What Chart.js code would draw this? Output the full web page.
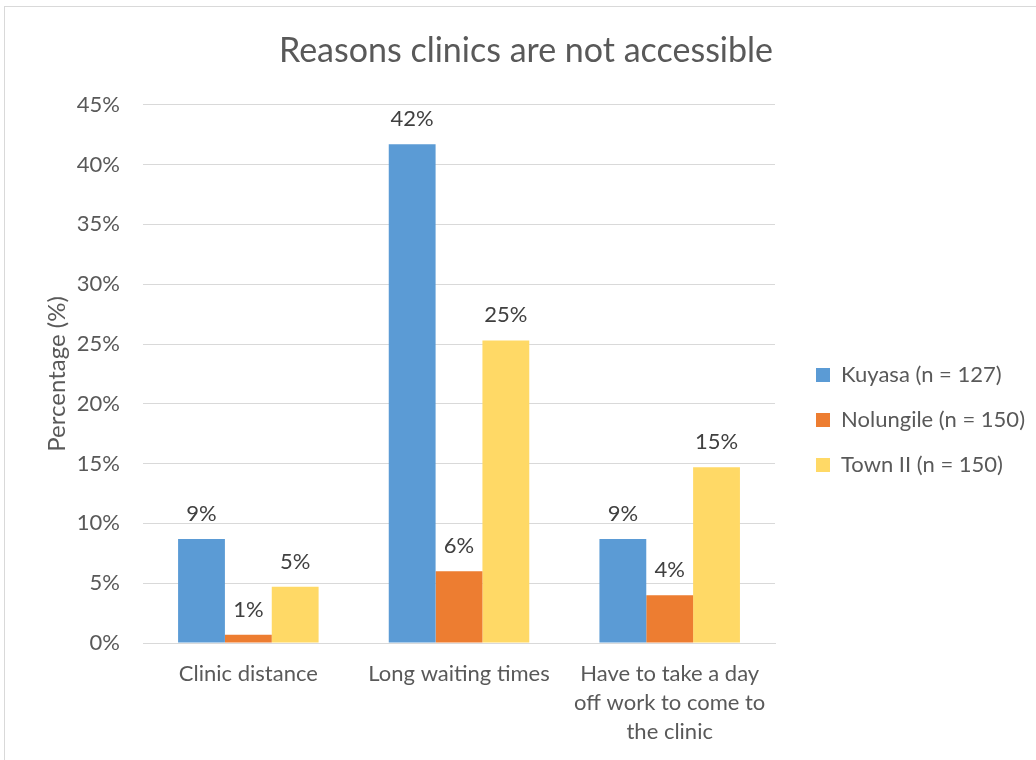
<!DOCTYPE html>
<html lang="en">
<head>
    <meta charset="UTF-8">
    <title>Reasons clinics are not accessible</title>
    <script src="https://cdn.jsdelivr.net/npm/chart.js"></script>
    <style>
        body {
            margin: 0;
            padding: 0;
            background: #ffffff;
            overflow: hidden;
        }

        .frame {
            position: absolute;
            left: 4px;
            top: 6px;
            width: 1100px;
            height: 800px;
            border: 1px solid #d9d9d9;
        }

        #clinicChart {
            position: absolute;
            left: 0;
            top: 0;
        }
    </style>
</head>
<body>

    <div class="frame"></div>
    <canvas id="clinicChart" width="1036" height="760"></canvas>

    <script>
        // Datos del gráfico
        const categorias = [
            'Clinic distance',
            'Long waiting times',
            ['Have to take a day', 'off work to come to', 'the clinic']
        ];
        const kuyasa = [8.7, 41.7, 8.7];
        const nolungile = [0.7, 6.0, 4.0];
        const townII = [4.7, 25.3, 14.7];
        const series = ['Kuyasa (n = 127)', 'Nolungile (n = 150)', 'Town II (n = 150)'];
        const yTicks = [0, 5, 10, 15, 20, 25, 30, 35, 40, 45];

        const fuente = 'Lato, "Open Sans", sans-serif';
        const gris = '#595959';

        // Etiquetas de porcentaje encima de cada barra
        const etiquetasBarras = {
            id: 'etiquetasBarras',
            afterDatasetsDraw(chart) {
                const ctx = chart.ctx;
                ctx.save();
                ctx.font = '22px ' + fuente;
                ctx.fillStyle = '#404040';
                ctx.textAlign = 'center';
                ctx.textBaseline = 'alphabetic';
                chart.data.datasets.forEach((ds, i) => {
                    chart.getDatasetMeta(i).data.forEach((bar, j) => {
                        ctx.fillText(Math.round(ds.data[j]) + '%', bar.x, bar.y - 18);
                    });
                });
                ctx.restore();
            }
        };

        // Ajusta la posición de la leyenda y del título
        const ajustarCajas = {
            id: 'ajustarCajas',
            afterLayout(chart) {
                const lg = chart.legend;
                lg.left += 18;
                lg.right += 18;
                lg.top += 35;
                lg.bottom += 35;
                const tt = chart.titleBlock;
                tt.left += 9;
                tt.right += 9;
                tt.top += 1;
                tt.bottom += 1;
            }
        };

        const ctx = document.getElementById('clinicChart').getContext('2d');
        const clinicChart = new Chart(ctx, {
            type: 'bar',
            data: {
                labels: categorias,
                datasets: [
                    { label: series[0], data: kuyasa, backgroundColor: '#5b9bd5' },
                    { label: series[1], data: nolungile, backgroundColor: '#ed7d31' },
                    { label: series[2], data: townII, backgroundColor: '#ffd966' }
                ]
            },
            options: {
                responsive: false,
                animation: false,
                layout: {
                    padding: { left: 17, right: 19, top: 10, bottom: 0 }
                },
                datasets: {
                    bar: {
                        categoryPercentage: 0.667,
                        barPercentage: 1.0
                    }
                },
                plugins: {
                    title: {
                        display: true,
                        text: 'Reasons clinics are not accessible',
                        color: gris,
                        font: { family: fuente, size: 34, weight: 'normal', lineHeight: 1.2 },
                        padding: { top: 20, bottom: 34 }
                    },
                    legend: {
                        position: 'right',
                        labels: {
                            color: gris,
                            font: { family: fuente, size: 22 },
                            boxWidth: 14,
                            boxHeight: 14,
                            padding: 23
                        }
                    },
                    tooltip: { enabled: false }
                },
                scales: {
                    x: {
                        grid: { display: false },
                        border: { color: '#d9d9d9' },
                        ticks: {
                            color: gris,
                            font: { family: fuente, size: 22, lineHeight: 1.32 },
                            padding: 8,
                            maxRotation: 0
                        },
                        afterFit(scale) { scale.height = 117; }
                    },
                    y: {
                        min: 0,
                        max: 45,
                        afterBuildTicks(scale) {
                            scale.ticks = yTicks.map(v => ({ value: v }));
                        },
                        grid: { color: '#d9d9d9', drawTicks: false },
                        border: { display: false },
                        ticks: {
                            color: gris,
                            font: { family: fuente, size: 22 },
                            padding: 23,
                            callback: v => v + '%'
                        },
                        title: {
                            display: true,
                            text: 'Percentage (%)',
                            color: gris,
                            font: { family: fuente, size: 24 },
                            padding: { top: 26, bottom: 0 }
                        },
                        afterFit(scale) { scale.width = 126; }
                    }
                }
            },
            plugins: [etiquetasBarras, ajustarCajas]
        });
    </script>

</body>
</html>
